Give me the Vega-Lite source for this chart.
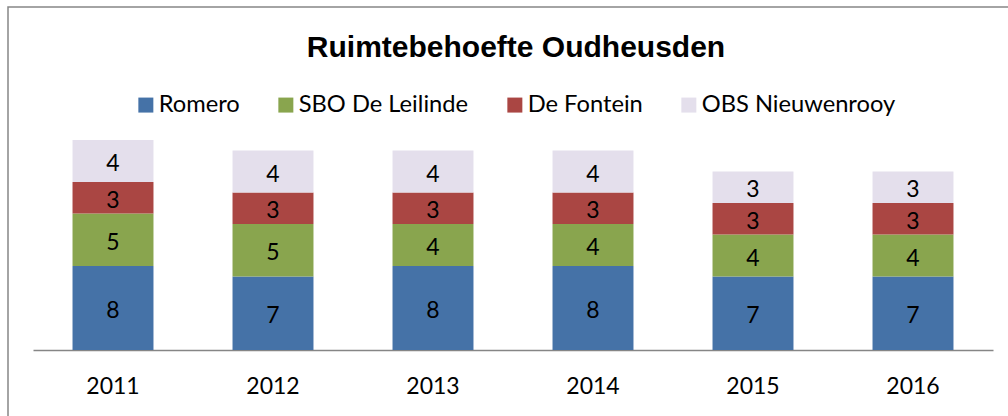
{
  "$schema": "https://vega.github.io/schema/vega-lite/v6.json",
  "width": 1010,
  "height": 420,
  "autosize": {"type": "none"},
  "padding": {"left": 8, "top": 7, "right": 0, "bottom": 0},
  "background": "white",
  "config": {"view": {"stroke": "#868686", "strokeWidth": 1.5}, "font": "Lato"},
  "title": {
    "text": "Ruimtebehoefte Oudheusden",
    "font": "Liberation Sans",
    "fontSize": 30,
    "fontWeight": "bold",
    "color": "black",
    "anchor": "middle",
    "frame": "group",
    "offset": 0,
    "dy": 80,
    "dx": 3,
    "baseline": "alphabetic"
  },
  "data": {
    "values": [
      {"year": "2011", "school": "Romero", "i": 1, "value": 8},
      {"year": "2011", "school": "SBO De Leilinde", "i": 2, "value": 5},
      {"year": "2011", "school": "De Fontein", "i": 3, "value": 3},
      {"year": "2011", "school": "OBS Nieuwenrooy", "i": 4, "value": 4},
      {"year": "2012", "school": "Romero", "i": 1, "value": 7},
      {"year": "2012", "school": "SBO De Leilinde", "i": 2, "value": 5},
      {"year": "2012", "school": "De Fontein", "i": 3, "value": 3},
      {"year": "2012", "school": "OBS Nieuwenrooy", "i": 4, "value": 4},
      {"year": "2013", "school": "Romero", "i": 1, "value": 8},
      {"year": "2013", "school": "SBO De Leilinde", "i": 2, "value": 4},
      {"year": "2013", "school": "De Fontein", "i": 3, "value": 3},
      {"year": "2013", "school": "OBS Nieuwenrooy", "i": 4, "value": 4},
      {"year": "2014", "school": "Romero", "i": 1, "value": 8},
      {"year": "2014", "school": "SBO De Leilinde", "i": 2, "value": 4},
      {"year": "2014", "school": "De Fontein", "i": 3, "value": 3},
      {"year": "2014", "school": "OBS Nieuwenrooy", "i": 4, "value": 4},
      {"year": "2015", "school": "Romero", "i": 1, "value": 7},
      {"year": "2015", "school": "SBO De Leilinde", "i": 2, "value": 4},
      {"year": "2015", "school": "De Fontein", "i": 3, "value": 3},
      {"year": "2015", "school": "OBS Nieuwenrooy", "i": 4, "value": 3},
      {"year": "2016", "school": "Romero", "i": 1, "value": 7},
      {"year": "2016", "school": "SBO De Leilinde", "i": 2, "value": 4},
      {"year": "2016", "school": "De Fontein", "i": 3, "value": 3},
      {"year": "2016", "school": "OBS Nieuwenrooy", "i": 4, "value": 3}
    ]
  },
  "encoding": {
    "x": {
      "field": "year",
      "type": "nominal",
      "scale": {"range": [25, 985], "paddingInner": 0.494, "paddingOuter": 0.247, "align": 0.5},
      "axis": {
        "title": null,
        "orient": "bottom",
        "offset": -77,
        "ticks": false,
        "labelAngle": 0,
        "labelFont": "Lato",
        "labelFontSize": 23,
        "labelColor": "black",
        "labelPadding": 25,
        "domainColor": "#868686",
        "domainWidth": 1.5,
        "grid": false
      }
    }
  },
  "layer": [
    {
      "mark": {"type": "bar"},
      "encoding": {
        "y": {
          "field": "value",
          "type": "quantitative",
          "stack": "zero",
          "scale": {"domain": [-7.333, 32.667], "zero": false, "nice": false},
          "axis": null
        },
        "color": {
          "field": "school",
          "type": "nominal",
          "sort": ["Romero", "SBO De Leilinde", "De Fontein", "OBS Nieuwenrooy"],
          "scale": {
            "domain": ["Romero", "SBO De Leilinde", "De Fontein", "OBS Nieuwenrooy"],
            "range": ["#4572A7", "#89A54E", "#AA4643", "#E4DFEC"]
          },
          "legend": {
            "title": null,
            "orient": "none",
            "direction": "horizontal",
            "legendX": 126,
            "legendY": 86,
            "symbolType": "square",
            "symbolSize": 225,
            "symbolStrokeWidth": 0,
            "labelFont": "Lato",
            "labelFontSize": 23.7,
            "labelColor": "black",
            "labelOffset": 1,
            "columnPadding": 34,
            "labelLimit": 400,
            "padding": 0
          }
        },
        "order": {"field": "i", "type": "quantitative"}
      }
    },
    {
      "mark": {"type": "text", "font": "Lato", "fontSize": 23, "color": "black", "baseline": "middle", "dy": 3},
      "encoding": {
        "y": {"field": "value", "type": "quantitative", "stack": "zero", "bandPosition": 0.5},
        "detail": {"field": "school"},
        "order": {"field": "i", "type": "quantitative"},
        "text": {"field": "value", "type": "quantitative"}
      }
    }
  ]
}
